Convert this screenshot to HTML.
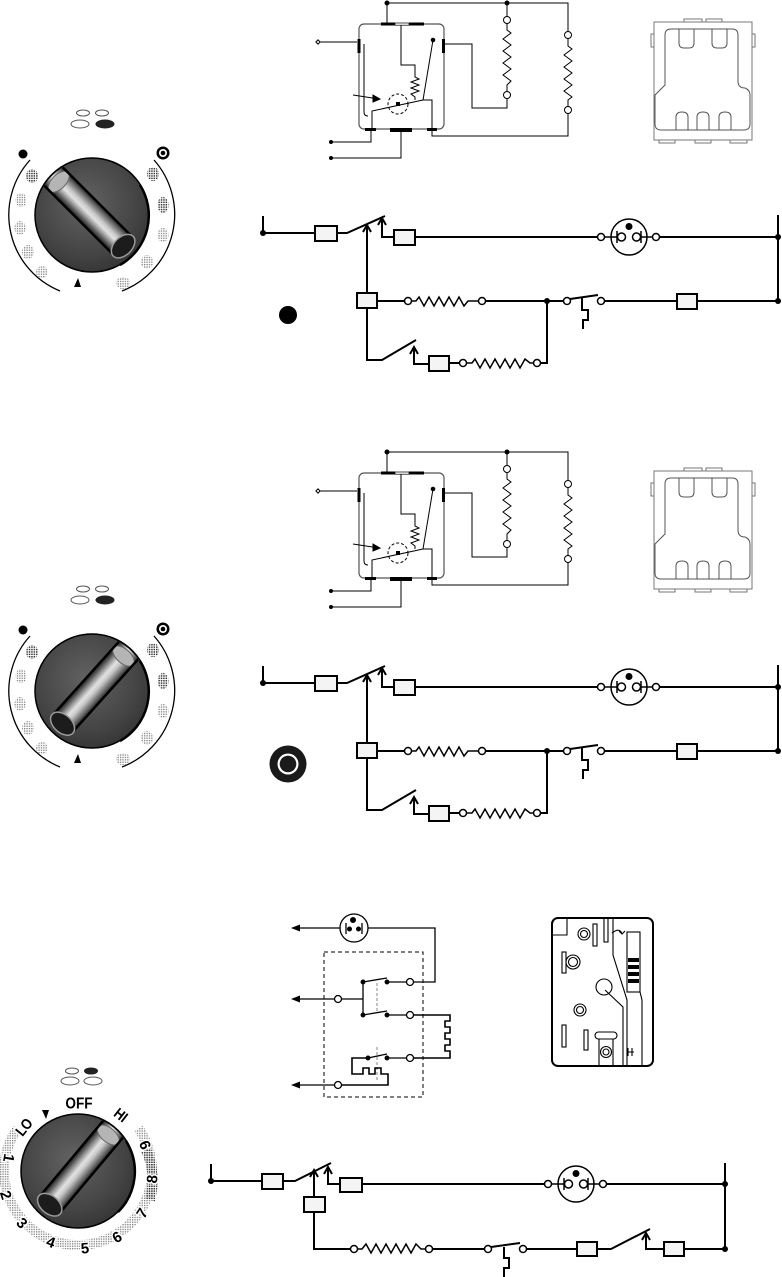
<!DOCTYPE html>
<html><head><meta charset="utf-8"><style>
html,body{margin:0;padding:0;background:#fff;}
svg{display:block;}
text{font-family:"Liberation Sans",Arial,sans-serif;font-weight:bold;}
</style></head><body>
<svg width="782" height="1277" viewBox="0 0 782 1277" xmlns="http://www.w3.org/2000/svg">
<defs>
 <pattern id="stD" width="2.4" height="2.4" patternUnits="userSpaceOnUse"><rect width="1.5" height="1.5" fill="#3a3a3a"/></pattern>
 <pattern id="stL" width="2.4" height="2.4" patternUnits="userSpaceOnUse"><rect width="1.3" height="1.3" fill="#808080"/></pattern>
 <radialGradient id="kb" cx="0.45" cy="0.4" r="0.75"><stop offset="0" stop-color="#626262"/><stop offset="0.6" stop-color="#444"/><stop offset="1" stop-color="#2a2a2a"/></radialGradient>
 <linearGradient id="rg" x1="0" y1="0" x2="0" y2="1">
  <stop offset="0" stop-color="#222"/><stop offset="0.15" stop-color="#666"/><stop offset="0.4" stop-color="#c8c8c8"/><stop offset="0.55" stop-color="#e2e2e2"/><stop offset="0.72" stop-color="#999"/><stop offset="0.9" stop-color="#444"/><stop offset="1" stop-color="#222"/>
 </linearGradient>
 <clipPath id="kc"><circle cx="0" cy="0" r="56"/></clipPath>

 <g id="ridge">
  <g clip-path="url(#kc)">
   <rect x="-60" y="-13" width="104" height="26" fill="url(#rg)"/>
   <ellipse cx="-47" cy="0" rx="7" ry="13" fill="#b5b5b5" stroke="#666" stroke-width="1"/>
   <path d="M-60,-13 H44 M-60,13 H44" stroke="#000" stroke-width="2.5" fill="none"/>
  </g>
  <ellipse cx="44" cy="0" rx="9" ry="14" fill="#1c1c1c" stroke="#9a9a9a" stroke-width="1.5"/>
 </g>

 <g id="dial">
  <ellipse cx="83" cy="113" rx="6.5" ry="3" fill="none" stroke="#555" stroke-width="1"/>
  <ellipse cx="102" cy="113" rx="6.5" ry="3" fill="none" stroke="#555" stroke-width="1"/>
  <ellipse cx="80" cy="124" rx="9" ry="4" fill="none" stroke="#555" stroke-width="1"/>
  <ellipse cx="105" cy="124" rx="9" ry="4" fill="#222" stroke="#222" stroke-width="1"/>
  <circle cx="23" cy="154" r="4.5" fill="#000"/>
  <circle cx="163" cy="153" r="6.5" fill="#000"/><circle cx="163" cy="153" r="4" fill="#fff"/><circle cx="163" cy="153" r="2.3" fill="#000"/>
  <path d="M30,160 A82,82 0 0 0 60,291" stroke="#000" fill="none" stroke-width="1.3"/>
  <path d="M154,160 A82,82 0 0 1 122,291" stroke="#000" fill="none" stroke-width="1.3"/>
  <ellipse cx="32" cy="176" rx="6" ry="7" fill="url(#stD)"/>
  <ellipse cx="21" cy="200" rx="5.5" ry="7" fill="url(#stL)"/>
  <ellipse cx="20" cy="228" rx="5.5" ry="7" fill="url(#stL)"/>
  <ellipse cx="28" cy="252" rx="6" ry="7" fill="url(#stL)"/>
  <ellipse cx="42" cy="272" rx="6" ry="6" fill="url(#stL)"/>
  <ellipse cx="153" cy="174" rx="6" ry="7" fill="url(#stD)"/>
  <ellipse cx="163" cy="205" rx="5.5" ry="8" fill="url(#stD)"/>
  <ellipse cx="163" cy="235" rx="5.5" ry="7" fill="url(#stL)"/>
  <ellipse cx="147" cy="262" rx="6" ry="7" fill="url(#stL)"/>
  <ellipse cx="123" cy="283" rx="7" ry="6" fill="url(#stL)"/>
  <path d="M74,287 L81,287 L78,278 Z" fill="#000"/>
  <circle cx="92" cy="215" r="57" fill="url(#kb)" stroke="#000" stroke-width="1.5"/>
  <path d="M140,185 A57,57 0 0 1 120,265" fill="none" stroke="#000" stroke-width="2.5"/>
 </g>

 <g id="relay" fill="none" stroke="#000" stroke-width="1">
  <path d="M387,3 H568 V31.5"/>
  <path d="M387,3 V23"/>
  <circle cx="387" cy="3" r="2" fill="#000"/><circle cx="507" cy="3" r="2" fill="#000"/>
  <path d="M507,3 V16.5"/>
  <circle cx="507" cy="20" r="3.5" fill="#fff"/>
  <path d="M507,23.5 L507,30 L511,33 L503,39 L511,45 L503,51 L511,57 L503,63 L511,69 L503,75 L511,81 L507,85 L507,91.5"/>
  <circle cx="507" cy="95" r="3.5" fill="#fff"/>
  <path d="M507,98.5 V108 H472 V44 H445"/>
  <circle cx="568" cy="35" r="3.5" fill="#fff"/>
  <path d="M568,38.5 L568,46 L572,49 L564,55 L572,61 L564,67 L572,73 L564,79 L572,85 L564,91 L572,97 L568,100 L568,106.5"/>
  <circle cx="568" cy="110" r="3.5" fill="#fff"/>
  <path d="M568,113.5 V136 H432 V130"/>
  <rect x="359" y="24" width="85" height="105" rx="5" stroke="#555" stroke-width="1.2"/>
  <rect x="381" y="22.5" width="14" height="3" fill="#000" stroke="none"/>
  <rect x="409" y="22.5" width="15" height="3" fill="#000" stroke="none"/>
  <rect x="395" y="23" width="14" height="2.2" fill="#fff" stroke-width="0.7"/>
  <rect x="357.5" y="39" width="3" height="14" fill="#000" stroke="none"/>
  <rect x="442" y="39" width="3" height="14" fill="#000" stroke="none"/>
  <path d="M318,42 H357"/>
  <rect x="316.5" y="40.5" width="3" height="3" fill="#fff" transform="rotate(45 318 42)"/>
  <path d="M364,44 V112 Q364,116 368,116"/>
  <path d="M401,25 V65 H415 V77 L419,79 L411,82 L419,85 L411,88 L419,91 L411,94 L415,97 V100"/>
  <path d="M423,100 L433,40"/>
  <circle cx="433" cy="40" r="1.8" fill="#000"/>
  <path d="M372,129 V111 L423,100 H432 V129"/>
  <circle cx="398" cy="104" r="10" stroke-dasharray="3 2"/>
  <rect x="396" y="102" width="4" height="4" fill="#000" stroke="none"/>
  <path d="M353,95 L379,99"/>
  <path d="M373,95 L380,99 L373,102 Z" fill="#000"/>
  <rect x="365" y="128" width="11" height="3" fill="#000" stroke="none"/>
  <rect x="390" y="128" width="22" height="4" fill="#000" stroke="none"/>
  <rect x="427" y="128" width="10" height="3" fill="#000" stroke="none"/>
  <path d="M371,131 V142 H331"/>
  <circle cx="331" cy="142" r="1.5" fill="#000"/>
  <path d="M401,132 V158 H331"/>
  <circle cx="331" cy="158" r="1.5" fill="#000"/>
 </g>

 <g id="comp" fill="#fff" stroke="#777" stroke-width="1">
  <rect x="684" y="19" width="18" height="3"/><rect x="706" y="19" width="16" height="3"/>
  <rect x="651" y="34" width="3" height="13"/><rect x="752" y="34" width="3" height="13"/>
  <rect x="659" y="140" width="16" height="3"/><rect x="695" y="140" width="16" height="3"/><rect x="730" y="140" width="17" height="3"/>
  <rect x="654" y="22" width="98" height="118"/>
  <path d="M665,35 Q665,29 671,29 H732 Q738,29 738,35 V81 Q738,88 745,88 Q750,90 750,95 V124 Q750,130 744,130 H661 Q655,130 655,124 V95 L665,85 Z" fill="none" stroke="#555"/>
  <path d="M679,29 V43 Q679,48 684,48 H689 Q694,48 694,43 V29" fill="none" stroke="#555"/>
  <path d="M712,29 V43 Q712,48 717,48 H722 Q727,48 727,43 V29" fill="none" stroke="#555"/>
  <path d="M676,130 V117 Q676,112 682,112 Q688,112 688,117 V130" fill="none" stroke="#555"/>
  <path d="M697,130 V117 Q697,112 703,112 Q709,112 709,117 V130" fill="none" stroke="#555"/>
  <path d="M719,130 V117 Q719,112 725,112 Q731,112 731,117 V130" fill="none" stroke="#555"/>
 </g>

 <g id="circ" fill="none" stroke="#000" stroke-width="2">
  <path d="M263,216 V233 H315"/>
  <circle cx="263" cy="233" r="3" fill="#000" stroke="none"/>
  <rect x="315" y="226" width="22" height="15" fill="#f4f4f4"/>
  <path d="M337,233 H347 L385,216"/>
  <path d="M367,226 V293"/>
  <path d="M363,232 L367,225 L371,232"/>
  <path d="M382,219 V237 H394"/>
  <path d="M378,225 L382,218 L386,225"/>
  <rect x="394" y="230" width="21" height="15" fill="#f4f4f4"/>
  <path d="M415,237 H597.5"/>
  <g stroke-width="1.5">
   <circle cx="601" cy="237" r="3.5" fill="#fff"/>
   <circle cx="629" cy="237" r="18"/>
   <path d="M604.5,237 H617 M617,231 V243"/>
   <circle cx="621.5" cy="237" r="4" fill="#fff"/>
   <circle cx="636.5" cy="237" r="4" fill="#fff"/>
   <path d="M641,231 V243 M641,237 H652.5"/>
   <circle cx="629" cy="226.5" r="3.5" fill="#000" stroke="none"/>
   <circle cx="656" cy="237" r="3.5" fill="#fff"/>
  </g>
  <path d="M659.5,237 H778"/>
  <path d="M778,215 V301"/>
  <circle cx="778" cy="237" r="3" fill="#000" stroke="none"/>
  <circle cx="778" cy="301" r="3" fill="#000" stroke="none"/>
  <rect x="357" y="293" width="20" height="15" fill="#f4f4f4"/>
  <path d="M377,301 H404.5"/>
  <g stroke-width="1.5">
   <circle cx="408" cy="301" r="3.5" fill="#fff"/>
   <path d="M411.5,301 L416,301 L419,297 L424,306 L429,297 L434,306 L439,297 L444,306 L449,297 L454,306 L459,297 L464,306 L468,301 L478.5,301"/>
   <circle cx="482" cy="301" r="3.5" fill="#fff"/>
  </g>
  <path d="M485.5,301 H563.5"/>
  <circle cx="547" cy="301" r="3" fill="#000" stroke="none"/>
  <circle cx="567" cy="301" r="3.5" fill="#fff" stroke-width="1.5"/>
  <path d="M570,299 L598,295"/>
  <circle cx="601" cy="301" r="3.5" fill="#fff" stroke-width="1.5"/>
  <path d="M582,298 V310 H588 V320 H583 V329"/>
  <path d="M604.5,301 H677"/>
  <rect x="677" y="294" width="20" height="15" fill="#f4f4f4"/>
  <path d="M697,301 H778"/>
  <path d="M547,301 V363 H540.5"/>
  <path d="M367,308 V360 H382 L416,340"/>
  <path d="M414,348 V364 H429"/>
  <path d="M410,354 L414,347 L418,354"/>
  <rect x="429" y="356" width="20" height="15" fill="#f4f4f4"/>
  <path d="M449,363 H459.5"/>
  <g stroke-width="1.5">
   <circle cx="463" cy="363" r="3.5" fill="#fff"/>
   <path d="M466.5,363 L472,363 L475,359 L480,368 L485,359 L490,368 L495,359 L500,368 L505,359 L510,368 L515,359 L520,368 L525,359 L530,363 L533.5,363"/>
   <circle cx="537" cy="363" r="3.5" fill="#fff"/>
  </g>
 </g>
</defs>

<rect width="782" height="1277" fill="#fff"/>

<!-- TOP SECTION -->
<use href="#dial"/>
<g transform="translate(92,215) rotate(45)"><use href="#ridge"/></g>
<use href="#relay"/>
<use href="#comp"/>
<use href="#circ"/>
<circle cx="288" cy="315" r="9" fill="#000"/>

<!-- MIDDLE SECTION -->
<use href="#dial" transform="translate(0,476)"/>
<g transform="translate(92,691) rotate(132)"><use href="#ridge"/></g>
<use href="#relay" transform="translate(0,449)"/>
<use href="#comp" transform="translate(0,449)"/>
<use href="#circ" transform="translate(0,450)"/>
<circle cx="288" cy="764" r="18.5" fill="#1a1a1a"/>
<circle cx="288" cy="764" r="10.5" fill="#fff"/>
<circle cx="288" cy="764" r="8.3" fill="#1a1a1a"/>

<!-- BOTTOM KNOB -->
<ellipse cx="72" cy="1071" rx="6.5" ry="3" fill="none" stroke="#555"/>
<ellipse cx="91" cy="1071" rx="6.5" ry="3" fill="#222" stroke="#222"/>
<ellipse cx="70" cy="1081" rx="9" ry="4" fill="none" stroke="#555"/>
<ellipse cx="93" cy="1081" rx="9" ry="4" fill="none" stroke="#555"/>
<path d="M17.5,1128.5 A74,74 0 1 0 138.5,1128.5" fill="none" stroke="url(#stL)" stroke-width="10"/>
<path d="M146,1150 A74,74 0 0 1 150,1200" fill="none" stroke="url(#stD)" stroke-width="10"/>
<path d="M42,1110 L49,1110 L46,1119 Z" fill="#000"/>
<g font-size="15" fill="#000" stroke="#fff" stroke-width="3" paint-order="stroke" text-anchor="middle">
 <text transform="translate(79,1108.5) scale(0.85,1)" font-size="16">OFF</text>
 <text transform="translate(24,1127) rotate(-51) scale(0.85,1)" dy="0.35em">LO</text>
 <text transform="translate(121,1115) rotate(38) scale(0.85,1)" dy="0.35em">HI</text>
 <text transform="translate(9,1158) rotate(100)" dy="0.35em">1</text>
 <text transform="translate(6,1195) rotate(72)" dy="0.35em">2</text>
 <text transform="translate(22,1223) rotate(47)" dy="0.35em">3</text>
 <text transform="translate(51,1242) rotate(20)" dy="0.35em">4</text>
 <text transform="translate(85,1248) rotate(-5)" dy="0.35em">5</text>
 <text transform="translate(117,1237) rotate(-30)" dy="0.35em">6</text>
 <text transform="translate(142,1213) rotate(-57)" dy="0.35em">7</text>
 <text transform="translate(152,1179) rotate(-84)" dy="0.35em">8</text>
 <text transform="translate(145,1145) rotate(-111)" dy="0.35em">9</text>
</g>
<circle cx="78" cy="1171" r="57" fill="url(#kb)" stroke="#000" stroke-width="1.5"/>
<path d="M126,1141 A57,57 0 0 1 118,1212" fill="none" stroke="#000" stroke-width="2.5"/>
<g transform="translate(78,1171) rotate(130)"><use href="#ridge"/></g>

<!-- BOTTOM LEFT SCHEMATIC -->
<g fill="none" stroke="#000" stroke-width="1.3">
 <circle cx="354" cy="928" r="14"/>
 <circle cx="353" cy="920" r="3" fill="#000" stroke="none"/>
 <path d="M346,923 V934 M362,923 V934"/>
 <circle cx="349.5" cy="929" r="2.5" fill="#000" stroke="none"/>
 <circle cx="358.5" cy="929" r="2.5" fill="#000" stroke="none"/>
 <path d="M340,928 H298"/>
 <path d="M291,928 L300,924.5 L300,931.5 Z" fill="#000" stroke="none"/>
 <path d="M368,928 H435 V982 H413.5"/>
 <rect x="324" y="952" width="99" height="145" stroke-dasharray="4 3" stroke-width="1"/>
 <circle cx="410" cy="982" r="3.5" fill="#fff"/>
 <path d="M406.5,982 H387"/>
 <circle cx="387" cy="982" r="1.8" fill="#000"/>
 <circle cx="363" cy="982" r="1.8" fill="#000"/>
 <path d="M363,982 L387,978"/>
 <path d="M363,982 V1015"/>
 <circle cx="363" cy="1015" r="1.8" fill="#000"/>
 <path d="M363,1015 L387,1011"/>
 <circle cx="387" cy="1015" r="1.8" fill="#000"/>
 <path d="M387,1015 H406.5"/>
 <circle cx="410" cy="1015" r="3.5" fill="#fff"/>
 <path d="M377,983 V1012 M377,1047 V1080" stroke="#666" stroke-width="0.8" stroke-dasharray="3 2"/>
 <path d="M363,999 H341.5"/>
 <circle cx="338" cy="999" r="3.5" fill="#fff"/>
 <path d="M334.5,999 H298"/>
 <path d="M291,999 L300,995.5 L300,1002.5 Z" fill="#000" stroke="none"/>
 <path d="M413.5,1015 H450 V1021 H445 V1027 H450 V1033 H445 V1039 H450 V1045 H445 V1051 H450 V1058 H413.5" stroke-width="1.6"/>
 <circle cx="410" cy="1058" r="3.5" fill="#fff"/>
 <path d="M406.5,1058 H387"/>
 <circle cx="387" cy="1058" r="1.8" fill="#000"/>
 <circle cx="368" cy="1058" r="1.8" fill="#000"/>
 <path d="M368,1058 L387,1054"/>
 <path d="M368,1058 H352 V1074 H363 V1068 H369 V1074 H375 V1068 H381 V1074 H388 V1085 H341.5" stroke-width="1.6"/>
 <circle cx="338" cy="1085" r="3.5" fill="#fff"/>
 <path d="M334.5,1085 H298"/>
 <path d="M291,1085 L300,1081.5 L300,1088.5 Z" fill="#000" stroke="none"/>
</g>

<!-- BOTTOM RIGHT COMPONENT -->
<g fill="none" stroke="#000" stroke-width="1.1">
 <rect x="552" y="918" width="101" height="148" rx="6" stroke-width="2"/>
 <path d="M567,918 V935 H552"/>
 <circle cx="584" cy="934" r="6"/><circle cx="584" cy="934" r="3.5"/>
 <rect x="593" y="924" width="4" height="22"/>
 <rect x="604" y="918" width="4" height="24"/>
 <path d="M613,918 V955 L627,1000 V1066"/>
 <path d="M612,933 Q620,927 622,934 M619,931 L622,934 L625,931"/>
 <rect x="627" y="932" width="13" height="60"/>
 <rect x="628" y="958" width="11" height="4" fill="#000" stroke="none"/>
 <rect x="628" y="965" width="11" height="4" fill="#000" stroke="none"/>
 <rect x="628" y="972" width="11" height="4" fill="#000" stroke="none"/>
 <rect x="628" y="979" width="11" height="4" fill="#000" stroke="none"/>
 <path d="M640,992 L642,1000 V1066"/>
 <path d="M605,990 L623,1007 V1066"/>
 <path d="M628,1048 V1056 M628,1052 H634 M632,1048 V1056"/>
 <circle cx="573" cy="962" r="7"/><circle cx="573" cy="962" r="4.5"/>
 <rect x="562" y="952" width="4" height="21"/>
 <circle cx="604" cy="987" r="8"/>
 <circle cx="580" cy="1010" r="6"/><circle cx="580" cy="1010" r="3.5"/>
 <rect x="562" y="1025" width="4" height="22"/>
 <rect x="584" y="1030" width="4" height="20"/>
 <rect x="595" y="1032" width="22" height="7" rx="3.5"/>
 <path d="M599,1039 V1066 M613,1039 V1066"/>
 <circle cx="606" cy="1052" r="5.5"/><circle cx="606" cy="1052" r="3"/>
</g>

<!-- BOTTOM CIRCUIT -->
<g fill="none" stroke="#000" stroke-width="2">
 <path d="M211,1164 V1181 H262"/>
 <circle cx="211" cy="1181" r="3" fill="#000" stroke="none"/>
 <rect x="262" y="1174" width="21" height="15" fill="#f4f4f4"/>
 <path d="M283,1181 H295 L331,1163"/>
 <path d="M314,1171 V1197"/>
 <path d="M310,1177 L314,1170 L318,1177"/>
 <rect x="304" y="1197" width="21" height="15" fill="#f4f4f4"/>
 <path d="M314,1212 V1249 H350.5"/>
 <g stroke-width="1.5">
  <circle cx="354" cy="1249" r="3.5" fill="#fff"/>
  <path d="M357.5,1249 L362,1249 L366,1244 L371,1253 L376,1244 L381,1253 L386,1244 L391,1253 L396,1244 L401,1253 L406,1244 L411,1253 L416,1244 L421,1249 L425.5,1249"/>
  <circle cx="429" cy="1249" r="3.5" fill="#fff"/>
 </g>
 <path d="M432.5,1249 H484.5"/>
 <circle cx="488" cy="1249" r="3.5" fill="#fff" stroke-width="1.5"/>
 <path d="M491,1247 L520,1243"/>
 <circle cx="523" cy="1249" r="3.5" fill="#fff" stroke-width="1.5"/>
 <path d="M504,1247 V1258 H509 V1268 H504 V1277"/>
 <path d="M526.5,1249 H577"/>
 <rect x="577" y="1242" width="20" height="14" fill="#f4f4f4"/>
 <path d="M597,1249 H611 L650,1229"/>
 <path d="M646,1234 V1249 H664"/>
 <path d="M642,1240 L646,1233 L650,1240"/>
 <rect x="664" y="1242" width="20" height="14" fill="#f4f4f4"/>
 <path d="M684,1249 H725"/>
 <path d="M725,1163 V1249"/>
 <circle cx="725" cy="1184" r="3" fill="#000" stroke="none"/>
 <circle cx="725" cy="1249" r="3" fill="#000" stroke="none"/>
 <path d="M328,1168 V1184 H340"/>
 <path d="M324,1174 L328,1167 L332,1174"/>
 <rect x="340" y="1178" width="22" height="14" fill="#f4f4f4"/>
 <path d="M362,1184 H544.5"/>
 <g stroke-width="1.5">
  <circle cx="548" cy="1184" r="3.5" fill="#fff"/>
  <circle cx="576" cy="1184" r="18"/>
  <path d="M551.5,1184 H564 M564,1178 V1190"/>
  <circle cx="568.5" cy="1184" r="4" fill="#fff"/>
  <circle cx="583.5" cy="1184" r="4" fill="#fff"/>
  <path d="M588,1178 V1190 M588,1184 H599.5"/>
  <circle cx="576" cy="1173.5" r="3.5" fill="#000" stroke="none"/>
  <circle cx="603" cy="1184" r="3.5" fill="#fff"/>
 </g>
 <path d="M606.5,1184 H725"/>
</g>
</svg>
</body></html>
